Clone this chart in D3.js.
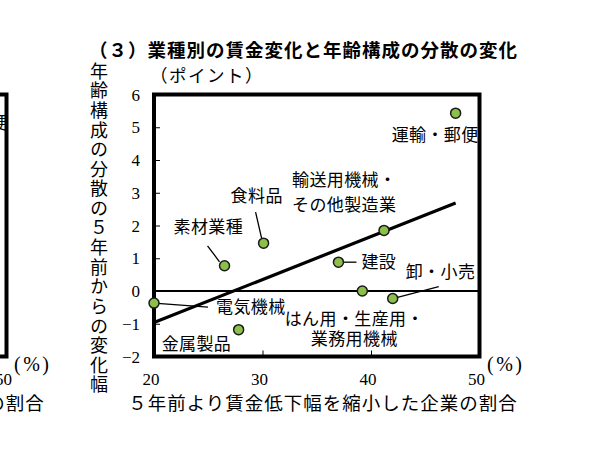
<!DOCTYPE html>
<html>
<head>
<meta charset="utf-8">
<script src="https://cdn.jsdelivr.net/npm/d3@7"></script>
<style>
  html, body { margin: 0; padding: 0; background: #fff; }
  svg { display: block; }
</style>
</head>
<body>
<svg id="chart" width="607" height="460"></svg>
<script>
// ---- data ----
const categories = ["電気機械", "金属製品", "素材業種", "食料品", "輸送用機械・その他製造業", "建設", "はん用・生産用・業務用機械", "卸・小売", "運輸・郵便"];
const xValues = [20.0, 27.8, 26.5, 30.1, 41.2, 37.0, 39.2, 42.0, 47.8];
const yValues = [-0.37, -1.18, 0.77, 1.46, 1.85, 0.88, 0.0, -0.23, 5.43];
const xTicks = [20, 30, 40, 50];
const yTicks = [-2, -1, 0, 1, 2, 3, 4, 5, 6];
const titleText = "（３）業種別の賃金変化と年齢構成の分散の変化";
const yTitle = "年齢構成の分散の５年前からの変化幅";
const xTitle = "５年前より賃金低下幅を縮小した企業の割合";
const yUnit = "（ポイント）";
const xUnit = "(%)";

// ---- label layout (pixel offsets from each point) ----
const labelLayout = [
  { lines: ["電気機械"], dx: 62, dy: 4, anchor: "start", leader: [0, 0, 54, 4] },
  { lines: ["金属製品"], dx: -77, dy: 14, anchor: "start" },
  { lines: ["素材業種"], dx: -51, dy: -39, anchor: "start", leader: [-5, -4, -17, -20] },
  { lines: ["食料品"], dx: -33, dy: -47, anchor: "start", leader: [-2, -5, -8, -31] },
  { lines: ["輸送用機械・", "その他製造業"], dx: -92, dy: -51, anchor: "start", lh: 25 },
  { lines: ["建設"], dx: 23, dy: 0, anchor: "start", leader: [4, 0, 18, 0] },
  { lines: ["はん用・生産用・", "業務用機械"], dx: -8, dy: 28, anchor: "middle", lh: 19.5 },
  { lines: ["卸・小売"], dx: 13, dy: -27, anchor: "start", leader: [0, 0, 46, -12] },
  { lines: ["運輸・郵便"], dx: -64, dy: 21.5, anchor: "start" }
];

const jp = "'Noto Sans CJK JP', sans-serif";
const serif = "'Liberation Serif', 'DejaVu Serif', serif";

const svg = d3.select("#chart");
svg.append("rect").attr("width", 607).attr("height", 460).attr("fill", "#fff");

const x = d3.scaleLinear().domain([20, 50]).range([154, 479.5]);
const y = d3.scaleLinear().domain([-2, 6]).range([356.5, 94.5]);

function drawFrameAndAxes(g) {
  // x ticks (inside, from bottom)
  g.append("g")
    .attr("transform", `translate(0,${y(-2)})`)
    .call(d3.axisBottom(x).tickValues(xTicks).tickSize(-6).tickFormat(""))
    .call(a => a.select(".domain").remove())
    .call(a => a.selectAll("line").attr("stroke", "#000").attr("stroke-width", 1));
  // y ticks (inside, from left)
  g.append("g")
    .attr("transform", `translate(${x(20)},0)`)
    .call(d3.axisLeft(y).tickValues(yTicks).tickSize(-6).tickFormat(""))
    .call(a => a.select(".domain").remove())
    .call(a => a.selectAll("line").attr("stroke", "#000").attr("stroke-width", 1));
  // x tick labels
  g.append("g").selectAll("text").data(xTicks).join("text")
    .attr("x", d => x(d) - 3).attr("y", 385)
    .attr("text-anchor", "middle")
    .attr("font-family", serif).attr("font-size", 17)
    .text(d => d);
  // x unit
  g.append("text").attr("x", 487).attr("y", 371)
    .attr("font-family", serif).attr("font-size", 20).attr("letter-spacing", 2.5)
    .text(xUnit);
  // x title
  g.append("text").attr("x", 323).attr("y", 410)
    .attr("text-anchor", "middle")
    .attr("font-family", jp).attr("font-size", 18.5).attr("letter-spacing", 1)
    .text(xTitle);
  // frame
  g.append("rect")
    .attr("x", x(20)).attr("y", y(6))
    .attr("width", x(50) - x(20)).attr("height", y(-2) - y(6))
    .attr("fill", "none").attr("stroke", "#000").attr("stroke-width", 4);
}

// ---- partial neighbouring chart on the left (only its right edge is visible) ----
const left = svg.append("g").attr("transform", "translate(-473,0)");
drawFrameAndAxes(left);
left.append("text").attr("x", 481).attr("y", 129)
  .attr("text-anchor", "end")
  .attr("font-family", jp).attr("font-size", 17).text("運輸・郵便");

// ---- main chart ----
const g = svg.append("g");

// title
g.append("text").attr("x", 89).attr("y", 57)
  .attr("font-family", jp).attr("font-size", 18.5).attr("font-weight", "bold")
  .attr("letter-spacing", 1)
  .text(titleText);

// y unit
g.append("text").attr("x", 150).attr("y", 82)
  .attr("font-family", jp).attr("font-size", 17.5).attr("letter-spacing", 1.5)
  .text(yUnit);

// y title (vertical)
g.append("text")
  .attr("x", 99).attr("y", 62)
  .attr("writing-mode", "vertical-rl")
  .style("text-orientation", "upright")
  .attr("font-family", jp).attr("font-size", 18).attr("letter-spacing", 1.6)
  .text(yTitle);

// y tick labels
g.append("g").selectAll("text").data(yTicks).join("text")
  .attr("x", 140).attr("y", d => y(d) + 6)
  .attr("text-anchor", "end")
  .attr("font-family", serif).attr("font-size", 17)
  .text(d => d < 0 ? "−" + Math.abs(d) : d);

drawFrameAndAxes(g);

// zero line
g.append("line")
  .attr("x1", x(20)).attr("x2", x(50))
  .attr("y1", y(0)).attr("y2", y(0))
  .attr("stroke", "#000").attr("stroke-width", 2);

// regression line
const n = xValues.length;
const mx = d3.mean(xValues), my = d3.mean(yValues);
let sxy = 0, sxx = 0;
for (let i = 0; i < n; i++) { sxy += (xValues[i] - mx) * (yValues[i] - my); sxx += (xValues[i] - mx) ** 2; }
const slope = sxy / sxx, intercept = my - slope * mx;
const [x0, x1] = d3.extent(xValues);
g.append("line")
  .attr("x1", x(x0)).attr("y1", y(intercept + slope * x0))
  .attr("x2", x(x1)).attr("y2", y(intercept + slope * x1))
  .attr("stroke", "#000").attr("stroke-width", 3.2);

// leader lines & labels
categories.forEach((c, i) => {
  const px = x(xValues[i]), py = y(yValues[i]);
  const L = labelLayout[i];
  if (L.leader) {
    g.append("line")
      .attr("x1", px + L.leader[0]).attr("y1", py + L.leader[1])
      .attr("x2", px + L.leader[2]).attr("y2", py + L.leader[3])
      .attr("stroke", "#000").attr("stroke-width", 1.3);
  }
  L.lines.forEach((t, j) => {
    g.append("text")
      .attr("x", px + L.dx).attr("y", py + L.dy + j * (L.lh || 0))
      .attr("dy", "0.36em")
      .attr("text-anchor", L.anchor)
      .attr("font-family", jp).attr("font-size", 17).attr("letter-spacing", 0.4)
      .text(t);
  });
});

// points
g.append("g").selectAll("circle").data(categories).join("circle")
  .attr("cx", (d, i) => x(xValues[i]))
  .attr("cy", (d, i) => y(yValues[i]))
  .attr("r", 5)
  .attr("fill", "#8cc04b").attr("stroke", "#1a1a1a").attr("stroke-width", 1.5);
</script>
</body>
</html>
